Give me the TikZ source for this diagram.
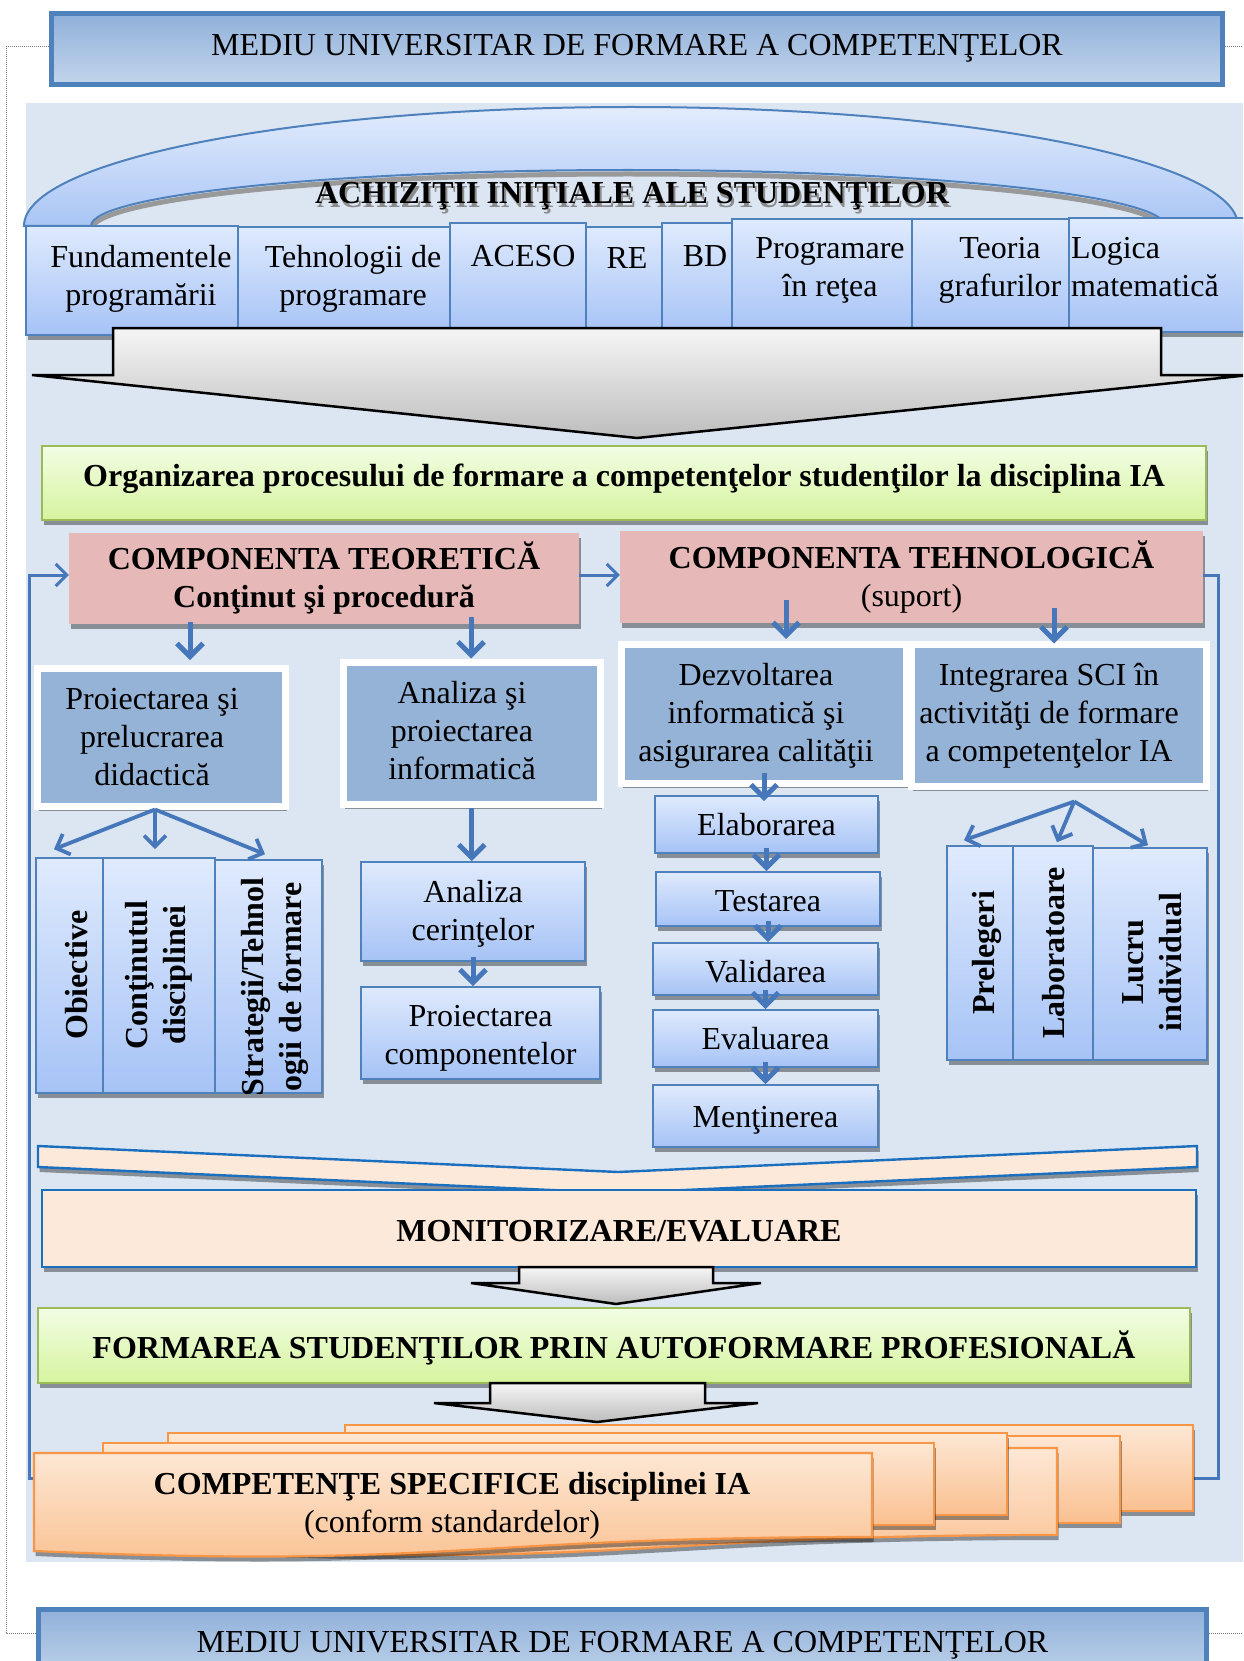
\documentclass[tikz,border=0pt]{standalone}
\usepackage{fontspec}
\setmainfont{Liberation Serif}
\usetikzlibrary{arrows.meta,shadows,calc}

\definecolor{panel}{HTML}{DCE6F2}
\definecolor{bandblue}{HTML}{4F81BD}
\definecolor{arrblue}{HTML}{4677BA}
\definecolor{lightA}{HTML}{DFEAFD}
\definecolor{lightB}{HTML}{A6C3F6}
\definecolor{archT}{HTML}{E2ECFD}
\definecolor{archB}{HTML}{A9C5F5}
\definecolor{steel}{HTML}{95B3D7}
\definecolor{rose}{HTML}{E6B9B8}
\definecolor{greenT}{HTML}{F2FDE4}
\definecolor{greenB}{HTML}{D6F49E}
\definecolor{greenL}{HTML}{9BBB59}
\definecolor{peach}{HTML}{FDE9D9}
\definecolor{peachL}{HTML}{1A6FBF}
\definecolor{orT}{HTML}{FDE7D4}
\definecolor{orB}{HTML}{FAC090}
\definecolor{orL}{HTML}{F79646}
\definecolor{banT}{HTML}{90B0DA}
\definecolor{banB}{HTML}{C2D5EB}
\definecolor{grayT}{HTML}{F6F6F6}
\definecolor{grayB}{HTML}{BDBDBD}
\definecolor{dotline}{HTML}{7F7F7F}

\newcommand\txt{\fontsize{32}{38}\selectfont}

\tikzset{
  shd/.style={drop shadow={shadow xshift=1.5pt,shadow yshift=-5pt,fill=black,opacity=0.38}},
  banner/.style={draw=bandblue,line width=5pt,top color=banT,bottom color=banB,inner sep=0pt},
  subj/.style={draw=bandblue,line width=1.6pt,top color=lightA,bottom color=lightB,shd,inner sep=0pt},
  wtext/.style={font=\txt,align=center,inner sep=0pt},
  btext/.style={wtext,font=\txt\bfseries},
  whiteframe/.style={draw=white,line width=7pt,fill=steel,shd,inner sep=0pt},
  comp/.style={fill=rose,shd,inner sep=0pt,font=\txt\bfseries,align=center},
  greenbar/.style={draw=greenL,line width=2pt,top color=greenT,bottom color=greenB,shd,inner sep=0pt},
  peachbox/.style={draw=peachL,line width=2.4pt,fill=peach,shd,inner sep=0pt},
  stepbox/.style={subj,font=\txt,align=center},
  vword/.style={wtext,font=\txt\bfseries,rotate=90},
  arrT/.style={draw=arrblue,line width=5pt,-{Straight Barb[length=13pt,width=26pt]}},
  arrM/.style={draw=arrblue,line width=3.8pt,-{Straight Barb[length=11pt,width=22pt]}},
  arrL/.style={draw=arrblue,line width=3pt,-{Straight Barb[length=11pt,width=22pt]}},
  blockarrow/.style={draw=black,line width=2.5pt,line join=miter,top color=grayT,bottom color=grayB},
  docpage/.style={draw=orL,line width=2.2pt,top color=orT,bottom color=orB,shd},
}

\begin{document}
\begin{tikzpicture}[x=1pt,y=-1pt]
\useasboundingbox (0,0) rectangle (1243,1661);
\clip (0,0) rectangle (1243,1661);

% light panel behind the whole scheme
\fill[panel] (26,103) rectangle (1250,1562);

% top and bottom banners
\node[banner,minimum width=1171pt,minimum height=71pt] (banTop) at (637,49) {};
\node[wtext] (banTopT) at (637,48.5) {MEDIU UNIVERSITAR DE FORMARE A COMPETENŢELOR};
\node[banner,minimum width=1168pt,minimum height=71pt] (banBot) at (622.5,1645) {};
\node[wtext] (banBotT) at (622.5,1645) {MEDIU UNIVERSITAR DE FORMARE A COMPETENŢELOR};

% dotted frame joining the banners
\draw[dotline,densely dotted,line width=1pt] (banTop.west |- 0,47) -- (6,47) -- (6,1633) -- (banBot.west |- 0,1633);
\draw[dotline,densely dotted,line width=1pt] (banTop.east |- 0,47) -- (1243,47);
\draw[dotline,densely dotted,line width=1pt] (banBot.east |- 0,1633) -- (1243,1633);

% arch of initial acquisitions
\draw[black!40,line width=5pt] (91,230) arc[start angle=180,end angle=360,x radius=537,y radius=56];
\path[draw=bandblue,line width=2pt,top color=archT,bottom color=archB]
  (24,226) arc[start angle=180,end angle=360,x radius=607,y radius=119]
  -- (1165,226) arc[start angle=0,end angle=-180,x radius=537,y radius=56] -- cycle;
\node[btext,text=black!45] (achS) at (634,200) {ACHIZIŢII INIŢIALE ALE STUDENŢILOR};
\node[btext] (ach) at (632,196) {ACHIZIŢII INIŢIALE ALE STUDENŢILOR};

% row of prerequisite subjects
\node[subj,minimum width=212pt,minimum height=109pt] (fp) at (132,280.5) {};
\node[subj,minimum width=212pt,minimum height=106pt] (tp) at (344,280) {};
\node[subj,minimum width=136pt,minimum height=110pt] (aceso) at (518,278) {};
\node[subj,minimum width=76pt,minimum height=106pt] (re) at (624,280) {};
\node[subj,minimum width=70pt,minimum height=110pt] (bd) at (697,278) {};
\node[subj,minimum width=180pt,minimum height=114pt] (pr) at (822,276) {};
\node[subj,minimum width=157pt,minimum height=114pt] (tg) at (990.5,276) {};
\node[subj,minimum width=186pt,minimum height=114pt] (lm) at (1162,275) {};
\node[wtext,anchor=north] (fpT) at (141,245) {Fundamentele\\programării};
\node[wtext,anchor=north] (tpT) at (353,245) {Tehnologii de\\programare};
\node[wtext,anchor=north] (acesoT) at (523,245) {ACESO};
\node[wtext,anchor=north] (reT) at (627,247) {RE};
\node[wtext,anchor=north] (bdT) at (705,245) {BD};
\node[wtext,anchor=north] (prT) at (830,237) {Programare\\în reţea};
\node[wtext,anchor=north] (tgT) at (1000,237) {Teoria\\grafurilor};
\node[wtext,anchor=north west,align=left] (lmT) at (1071,237) {Logica\\matematică};

% large block arrow
\path[blockarrow] (113,328) -- (1161,328) -- (1161,375) -- (1250,375) -- (637,438) -- (32,375) -- (113,375) -- cycle;

% organisation bar
\node[greenbar,minimum width=1164pt,minimum height=74pt] (org) at (624,483) {};
\node[btext] (orgT) at (624,478.5)
  {Organizarea procesului de formare a competenţelor studenţilor la disciplina IA};

% the two components
\node[comp,minimum width=510pt,minimum height=91pt] (ct) at (324,578.5)
  {COMPONENTA TEORETICĂ\\Conţinut şi procedură};
\node[comp,minimum width=583pt,minimum height=92pt] (ctech) at (911.5,577)
  {COMPONENTA TEHNOLOGICĂ\\\mdseries(suport)};

% feedback loop around the scheme
\draw[arrL] (ctech.east |- 0,575) -- (1218,575) -- (1218,1478) -- (29,1478) -- (29,575) -- (ct.west |- 0,575);
\draw[arrL] (ct.east |- 0,575) -- (ctech.west |- 0,575);

% framed sub-components
\node[whiteframe,minimum width=247.5pt,minimum height=137.5pt] (pp) at (161.25,737.25) {};
\node[wtext] (ppT) at (152,737) {Proiectarea şi\\prelucrarea\\didactică};
\node[whiteframe,minimum width=256.5pt,minimum height=142pt] (aa) at (471.75,733) {};
\node[wtext] (aaT) at (462,731) {Analiza şi\\proiectarea\\informatică};
\node[whiteframe,minimum width=285pt,minimum height=138.5pt] (dz) at (764,713.75) {};
\node[wtext] (dzT) at (756,716) {Dezvoltarea\\informatică şi\\asigurarea calităţii};
\node[whiteframe,minimum width=294.5pt,minimum height=142pt] (ig) at (1058.75,715) {};
\node[wtext] (igT) at (1049,715.5) {Integrarea SCI în\\activităţi de formare\\a competenţelor IA};

\draw[arrT] ($(ct.south -| 190,0)+(0,-2)$) -- ($(pp.north -| 190,0)+(0,-5)$);
\draw[arrT] ($(ct.south -| 471,0)+(0,-7)$) -- (aa.north -| 471,0);
\draw[arrT] ($(ctech.south -| 786,0)+(0,-23)$) -- ($(dz.north -| 786,0)+(0,-2)$);
\draw[arrT] ($(ctech.south -| 1054,0)+(0,-15)$) -- ($(ig.north -| 1054,0)+(0,3)$);

% didactic design: vertical boxes
\node[subj,minimum width=67pt,minimum height=235pt] (ob) at (69.5,975.5) {};
\node[subj,minimum width=112pt,minimum height=235pt] (cd) at (159,975.5) {};
\node[subj,minimum width=107pt,minimum height=233pt] (st) at (268.5,976.5) {};
\node[vword] (obT) at (77,975) {Obiective};
\node[vword] (cdT) at (159,975) {Conţinutul\\disciplinei};
\begin{scope}
  \clip (st.north west) rectangle (st.south east);
  \node[vword] (stT) at (275,987) {Strategii/Tehnol\\ogii de formare};
\end{scope}
\coordinate (ppFork) at (pp.south -| 155,0);
\draw[arrM] (ppFork) -- ($(ob.north)+(-15.5,-8)$);
\draw[arrM] (ppFork) -- ($(cd.north)+(-4,-8)$);
\draw[arrM] (ppFork) -- ($(st.north)+(-3.5,-5)$);

% software analysis chain
\node[stepbox,minimum width=224pt,minimum height=99pt] (ac) at (473,911.5) {};
\node[wtext] (acT) at (473,913.5) {Analiza\\cerinţelor};
\node[stepbox,minimum width=239pt,minimum height=92pt] (pc) at (480.5,1033) {};
\node[wtext] (pcT) at (480.5,1038) {Proiectarea\\componentelor};
\draw[arrT] (aa.south) -- (aa.south |- ac.north);
\draw[arrT] ($(ac.south)+(0,-5)$) -- (ac.south |- pc.north);

% development life cycle
\node[stepbox,minimum width=223pt,minimum height=57pt] (el) at (766.5,824.5) {Elaborarea};
\node[stepbox,minimum width=224pt,minimum height=54pt] (ts) at (768,899) {};
\node[wtext] (tsT) at (768,901) {Testarea};
\node[stepbox,minimum width=225pt,minimum height=52pt] (vl) at (765.5,969) {};
\node[wtext] (vlT) at (765.5,972) {Validarea};
\node[stepbox,minimum width=225pt,minimum height=57pt] (ev) at (765.5,1038.5) {Evaluarea};
\node[stepbox,minimum width=225pt,minimum height=62pt] (mt) at (765.5,1116) {};
\node[wtext] (mtT) at (765.5,1120) {Menţinerea};
\draw[arrT] ($(dz.south)+(0,-14)$) -- ($(dz.south |- el.north)+(0,6)$);
\draw[arrT] ($(el.south)+(0,-6)$) -- (el.south |- ts.north);
\draw[arrT] ($(ts.south)+(0,-6)$) -- (ts.south |- vl.north);
\draw[arrT] ($(vl.south)+(0,-6)$) -- (vl.south |- ev.north);
\draw[arrT] ($(ev.south)+(0,-6)$) -- (ev.south |- mt.north);

% training activities
\node[subj,minimum width=66pt,minimum height=214pt] (pl) at (980,953) {};
\node[subj,minimum width=80pt,minimum height=214pt] (lb) at (1053,953) {};
\node[subj,minimum width=114pt,minimum height=212pt] (li) at (1150,954) {};
\node[vword] (plT) at (987,953) {Prelegeri};
\node[vword] (lbT) at (1054,953) {Laboratoare};
\node[vword] (liT) at (1152,962) {Lucru\\individual};
\coordinate (igFork) at ($(ig.south)+(15.5,12)$);
\draw[arrM] (igFork) -- ($(pl.north)+(-16,-5)$);
\draw[arrM] (igFork) -- ($(lb.north)+(4,-3)$);
\draw[arrM] (igFork) -- ($(li.north)+(-2,-2)$);

% monitoring chevron and box
\path[draw=peachL,line width=2.4pt,fill=peach,shd,line join=miter]
  (38,1146) -- (618,1172) -- (1197,1146) -- (1197,1167) -- (618,1193) -- (38,1167) -- cycle;
\node[peachbox,minimum width=1154pt,minimum height=77pt] (mon) at (619,1228.5) {};
\node[btext] (monT) at (619,1231.5) {MONITORIZARE/EVALUARE};

\path[blockarrow] (519,1267) -- (713,1267) -- (713,1283) -- (761,1283) -- (616,1304) -- (471,1283) -- (519,1283) -- cycle;

\node[greenbar,minimum width=1152pt,minimum height=75pt] (fs) at (614,1345.5) {};
\node[btext] (fsT) at (614,1347.5) {FORMAREA STUDENŢILOR PRIN AUTOFORMARE PROFESIONALĂ};

\path[blockarrow] (490,1383) -- (705,1383) -- (705,1403) -- (758,1403) -- (597,1422) -- (434,1403) -- (490,1403) -- cycle;

% stacked documents of specific competences
\path[docpage] (345,1425) rectangle (1193,1511);
\path[docpage] (270,1436) rectangle (1120,1523);
\path[docpage] (200,1448) -- (1057,1448) -- (1057,1535) .. controls (628,1535) and (628,1568) .. (200,1549) -- cycle;
\path[docpage] (168,1433) rectangle (1007,1515);
\path[docpage] (103,1443) rectangle (934,1525);
\path[docpage] (34,1453) -- (872,1453) -- (872,1537) .. controls (453,1537) and (453,1569) .. (34,1551) -- cycle;
\node[wtext] (csp) at (452,1506) {\bfseries COMPETENŢE SPECIFICE disciplinei IA\\(conform standardelor)};
\end{tikzpicture}
\end{document}
